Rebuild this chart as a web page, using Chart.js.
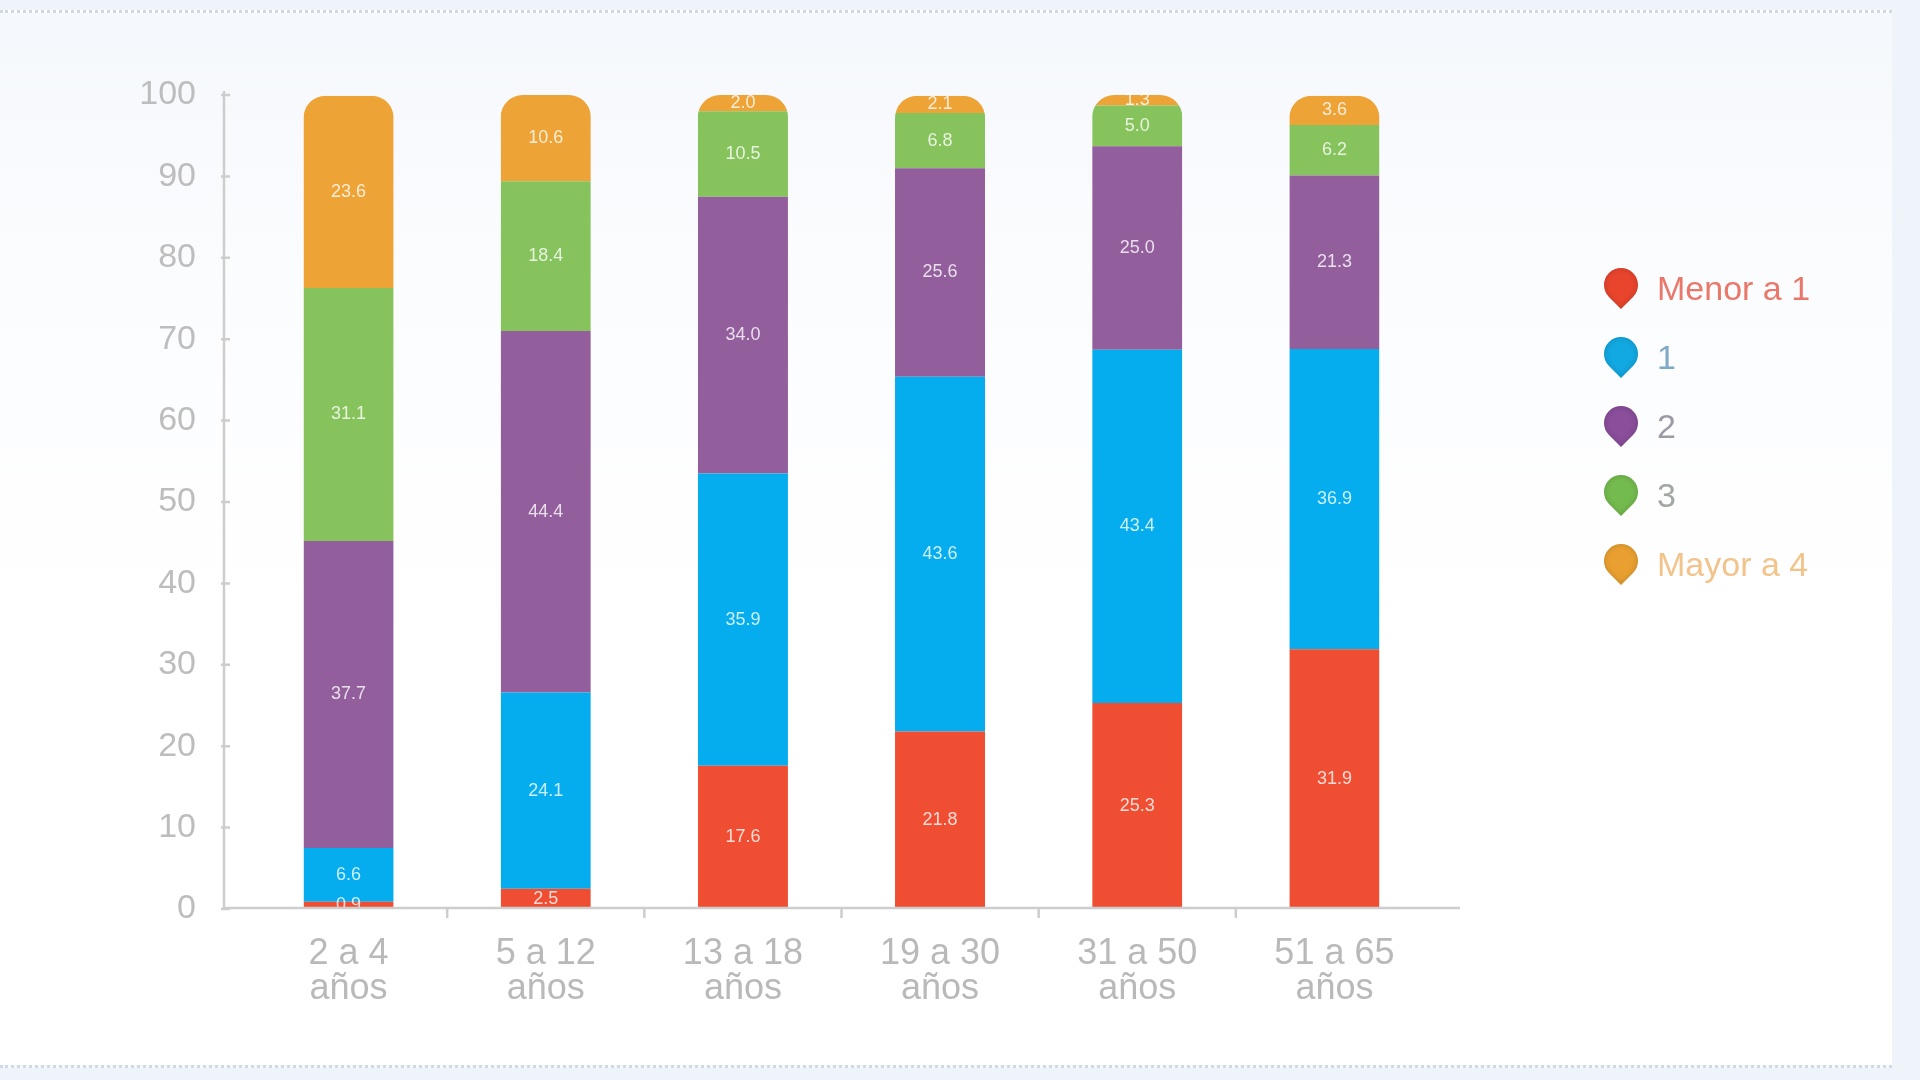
<!DOCTYPE html>
<html lang="es">
<head>
<meta charset="utf-8">
<title>Distribución por edad</title>
<script src="https://cdn.jsdelivr.net/npm/chart.js@4.4.1/dist/chart.umd.min.js"></script>
<style>
    html, body { margin: 0; padding: 0; }
    body {
        width: 1920px; height: 1080px; overflow: hidden; position: relative;
        background: #eef4fa;
        font-family: 'Liberation Sans', Arial, sans-serif;
    }
    #panel {
        position: absolute; left: 0; top: 10px; width: 1892px; height: 1052px;
        background: linear-gradient(180deg, #f5f8fc 0%, #fbfcfe 25%, #ffffff 60%);
        border-top: 3px dotted #cfdae6;
        border-bottom: 3px dotted #cfdae6;
    }
    #grafico { position: absolute; left: 0; top: 0; }
    #leyenda { position: absolute; left: 1604px; top: 254px; }
    .item { height: 69px; display: flex; align-items: center; font-size: 34px; }
    .pin {
        width: 34px; height: 34px; margin-top: -8px; margin-right: 19px;
        border-radius: 50% 50% 50% 0; transform: rotate(-45deg);
        box-shadow: inset 0 0 6px rgba(0, 0, 0, 0.18);
    }
</style>
</head>
<body>
<div id="panel"></div>
<canvas id="grafico" width="1920" height="1080"></canvas>
<div id="leyenda"></div>

<script>
// --- Datos (porcentajes por grupo de edad) ---
const categorias = [['2 a 4', 'años'], ['5 a 12', 'años'], ['13 a 18', 'años'],
                    ['19 a 30', 'años'], ['31 a 50', 'años'], ['51 a 65', 'años']];
const menorA1 = [0.9, 2.5, 17.6, 21.8, 25.3, 31.9];
const uno     = [6.6, 24.1, 35.9, 43.6, 43.4, 36.9];
const dos     = [37.7, 44.4, 34.0, 25.6, 25.0, 21.3];
const tres    = [31.1, 18.4, 10.5, 6.8, 5.0, 6.2];
const mayorA4 = [23.6, 10.6, 2.0, 2.1, 1.3, 3.6];
const ticksY  = [0, 10, 20, 30, 40, 50, 60, 70, 80, 90, 100];

const series = [
    { label: 'Menor a 1', data: menorA1, color: '#ef4e32', pin: '#e8452c', text: '#e9786a' },
    { label: '1',         data: uno,     color: '#05adee', pin: '#12a8e2', text: '#7fa9c4' },
    { label: '2',         data: dos,     color: '#925e9c', pin: '#8a4e9b', text: '#9c9aa6' },
    { label: '3',         data: tres,    color: '#86c35c', pin: '#74bb4f', text: '#a2a7a2' },
    { label: 'Mayor a 4', data: mayorA4, color: '#eea337', pin: '#e9a030', text: '#f2c38a' }
];

// --- Leyenda en HTML ---
const leyenda = document.getElementById('leyenda');
series.forEach(s => {
    const item = document.createElement('div');
    item.className = 'item';
    item.innerHTML = `<div class="pin" style="background:${s.pin}"></div><span style="color:${s.text}">${s.label}</span>`;
    leyenda.appendChild(item);
});

// Recorta la pila de cada columna con las esquinas superiores redondeadas
const recortePilas = {
    id: 'recortePilas',
    beforeDatasetsDraw(chart) {
        const { ctx, scales: { y } } = chart;
        const meta = chart.getDatasetMeta(0);
        ctx.save();
        ctx.beginPath();
        meta.data.forEach((bar, i) => {
            const total = series.reduce((acc, s) => acc + s.data[i], 0);
            const top = y.getPixelForValue(total);
            const bottom = y.getPixelForValue(0);
            ctx.roundRect(bar.x - bar.width / 2, top, bar.width, bottom - top, [22, 22, 0, 0]);
        });
        ctx.clip();
    },
    afterDatasetsDraw(chart) {
        const { ctx } = chart;
        ctx.restore();

        // Etiquetas de valor dentro de cada segmento
        ctx.save();
        ctx.font = '18px "Liberation Sans", Arial, sans-serif';
        ctx.fillStyle = 'rgba(255, 255, 255, 0.8)';
        ctx.textAlign = 'center';
        ctx.textBaseline = 'middle';
        chart.data.datasets.forEach((ds, d) => {
            chart.getDatasetMeta(d).data.forEach((bar, i) => {
                ctx.fillText(ds.data[i].toFixed(1), bar.x, (bar.y + bar.base) / 2);
            });
        });
        ctx.restore();
    }
};

// Ejes dibujados a mano: línea vertical separada de la primera columna
const ejes = {
    id: 'ejes',
    afterDraw(chart) {
        const { ctx, chartArea, scales: { x, y } } = chart;
        const ejeX = chartArea.left - 26;
        const base = y.getPixelForValue(0) - 1;
        ctx.save();
        ctx.strokeStyle = '#cdcdcd';
        ctx.lineWidth = 2.5;
        ctx.beginPath();
        ctx.moveTo(ejeX, y.getPixelForValue(100) - 4);
        ctx.lineTo(ejeX, base);
        ctx.lineTo(chartArea.right + 27, base);
        // marcas del eje Y
        ticksY.forEach(v => {
            const py = y.getPixelForValue(v);
            ctx.moveTo(ejeX - 3, py);
            ctx.lineTo(ejeX + 6, py);
        });
        // separadores entre categorías
        for (let i = 0; i < categorias.length - 1; i++) {
            const px = (x.getPixelForValue(i) + x.getPixelForValue(i + 1)) / 2;
            ctx.moveTo(px, base);
            ctx.lineTo(px, base + 10);
        }
        ctx.stroke();
        ctx.restore();
    }
};

new Chart(document.getElementById('grafico'), {
    type: 'bar',
    data: {
        labels: categorias,
        datasets: series.map(s => ({
            label: s.label,
            data: s.data,
            backgroundColor: s.color,
            borderWidth: 0,
            barPercentage: 0.457,
            categoryPercentage: 1,
            stack: 'edad'
        }))
    },
    options: {
        responsive: false,
        animation: false,
        devicePixelRatio: 1,
        layout: { padding: { top: 95, right: 487, bottom: 0, left: 0 } },
        plugins: {
            legend: { display: false },
            tooltip: { enabled: false }
        },
        scales: {
            x: {
                stacked: true,
                grid: { display: false, drawTicks: false },
                border: { display: false },
                ticks: {
                    color: '#b9b9b9',
                    padding: 27,
                    font: { family: '"Liberation Sans", Arial, sans-serif', size: 36, lineHeight: 0.98 }
                },
                afterFit: scale => { scale.height = 171; }
            },
            y: {
                stacked: true,
                min: 0,
                max: 100,
                grid: { display: false, drawTicks: false },
                border: { display: false },
                ticks: {
                    stepSize: 10,
                    color: '#bdbdbd',
                    padding: 54,
                    font: { family: '"Liberation Sans", Arial, sans-serif', size: 34 }
                },
                afterFit: scale => { scale.width = 250; }
            }
        }
    },
    plugins: [recortePilas, ejes]
});
</script>
</body>
</html>
